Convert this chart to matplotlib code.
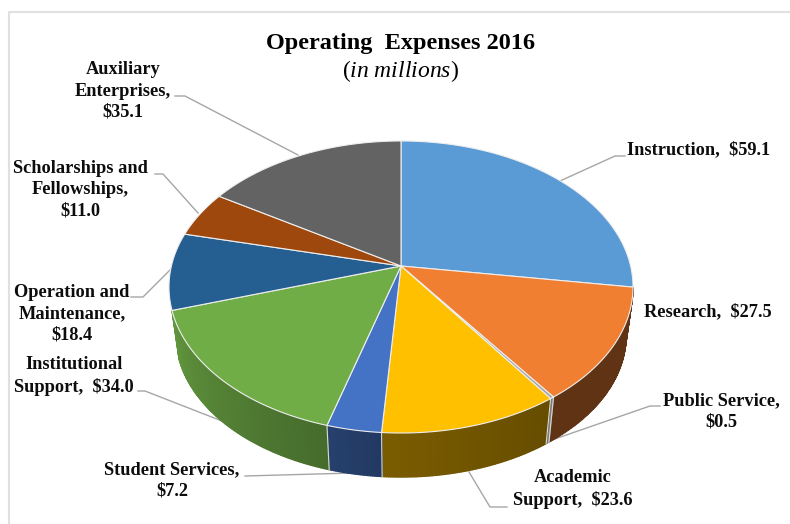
import matplotlib
matplotlib.use("Agg")
import matplotlib.pyplot as plt
import numpy as np

plt.rcParams['font.family'] = ['Liberation Serif', 'DejaVu Serif']
plt.rcParams['mathtext.fontset'] = 'custom'
plt.rcParams['mathtext.rm'] = 'Liberation Serif'
plt.rcParams['mathtext.it'] = 'Liberation Serif:italic'

# values, clockwise from 12 o'clock
categories = ['Instruction', 'Research', 'Public Service', 'Academic Support', 'Student Services',
              'Institutional Support', 'Operation and Maintenance', 'Scholarships and Fellowships',
              'Auxiliary Enterprises']
expenses = [59.1, 27.5, 0.5, 23.6, 7.2, 34.0, 18.4, 11.0, 35.1]

colors = ['#5B9BD5', '#F07F32', '#A5A5A5', '#FFC000', '#4472C4', '#70AD47', '#255E91', '#9E480E', '#636363']
# how dark the rim of each slice is, at its clockwise start and end
rim_shade = [(.42, .40), (.40, .40), (.75, .75), (.40, .48), (.50, .56), (.62, .86), (.86, .86), (.8, .8), (.8, .8)]

label_texts = ['Instruction,  $59.1', 'Research,  $27.5', 'Public Service,\n$0.5', 'Academic\nSupport,  $23.6',
               'Student Services,\n$7.2', 'Institutional\nSupport,  $34.0', 'Operation and\nMaintenance,\n$18.4',
               'Scholarships and\nFellowships,\n$11.0', 'Auxiliary\nEnterprises,\n$35.1']
label_pos = [(699, 150), (708, 312), (721, 411), (573, 489), (172, 480), (74, 376), (72, 314), (80, 190), (123, 91)]
leaders = [[(625, 156), (615, 156), (560, 181)],
           [(660, 406), (650, 406), (549, 441)],
           [(507, 507), (490, 507), (469, 472)],
           [(245, 476), (353, 473)],
           [(138, 391), (145, 391), (227, 423)],
           [(131, 297), (143, 297), (170, 270)],
           [(155, 174), (163, 174), (198, 213)],
           [(175, 96), (185, 96), (298, 155)]]

# perspective of the disc
cx = 401
top_y = 266
bot_y = 315
bot_scale = 0.97
a = 229.6
b = 143
k = 0.1438


def project(deg, y0, s=1.0):
    t = np.radians(deg)
    d = 1 + k * np.sin(t)
    return cx + s * a * np.cos(t) / d, y0 - s * b * np.sin(t) / d


fig = plt.figure(figsize=(7.9, 5.24), dpi=100)
ax = fig.add_axes([0, 0, 1, 1])
ax.set_xlim(0, 790)
ax.set_ylim(524, 0)
ax.axis('off')

# chart border
ax.plot([8.5, 8.5, 790], [524, 11.5, 11.5], color='#e0e0e0', lw=1.5, zorder=1)

for pts in leaders:
    ax.plot([p[0] for p in pts], [p[1] for p in pts], color='#a6a6a6', lw=1, zorder=2)

fracs = np.cumsum([0] + expenses) / sum(expenses)
starts = 90 - 360 * fracs[:-1]
ends = 90 - 360 * fracs[1:]

# rim, only the part facing the viewer
for i in range(len(expenses)):
    base = np.array(matplotlib.colors.to_rgb(colors[i]))
    d0 = max(ends[i], ends[5])
    d1 = min(starts[i], starts[1])
    if d1 <= d0:
        continue
    n = max(2, int((d1 - d0) * 2))
    grid = np.linspace(d1, d0, n + 1)
    for j in range(n):
        f = ((d1 - grid[j]) + (d1 - grid[j + 1])) / 2 / (d1 - d0)
        shade = rim_shade[i][0] + (rim_shade[i][1] - rim_shade[i][0]) * f
        x1, y1 = project(grid[j:j + 2], top_y)
        x2, y2 = project(grid[j:j + 2], bot_y, bot_scale)
        c = base * shade
        ax.fill([x1[0], x1[1], x2[1], x2[0]], [y1[0], y1[1], y2[1], y2[0]], color=c, lw=1.0, zorder=3)

# slice seams on the rim
for d in starts[2:6]:
    xa, ya = project(d, top_y)
    xb, yb = project(d, bot_y, bot_scale)
    ax.plot([xa, xb], [ya, yb], color='#d9d9d9', lw=0.8, zorder=4)

# top face
for i in range(len(expenses)):
    grid = np.linspace(starts[i], ends[i], 120)
    xs, ys = project(grid, top_y)
    ax.fill(np.r_[cx, xs], np.r_[top_y, ys], facecolor=colors[i], edgecolor='#eeeeee', lw=0.8, zorder=5)

for txt, pos in zip(label_texts, label_pos):
    ax.text(pos[0], pos[1], txt.replace('$', r'\$'), ha='center', va='center', fontsize=13.2, fontweight='bold',
            color='#0d0d0d', linespacing=1.32, zorder=6)

ax.text(401, 43, 'Operating  Expenses 2016', ha='center', va='center', fontsize=17.5, fontweight='bold', color='black')
ax.text(400, 71, r'($\mathit{in\ millions}$)', ha='center', va='center', fontsize=17, color='black')

fig.savefig('out.png', dpi=100)
